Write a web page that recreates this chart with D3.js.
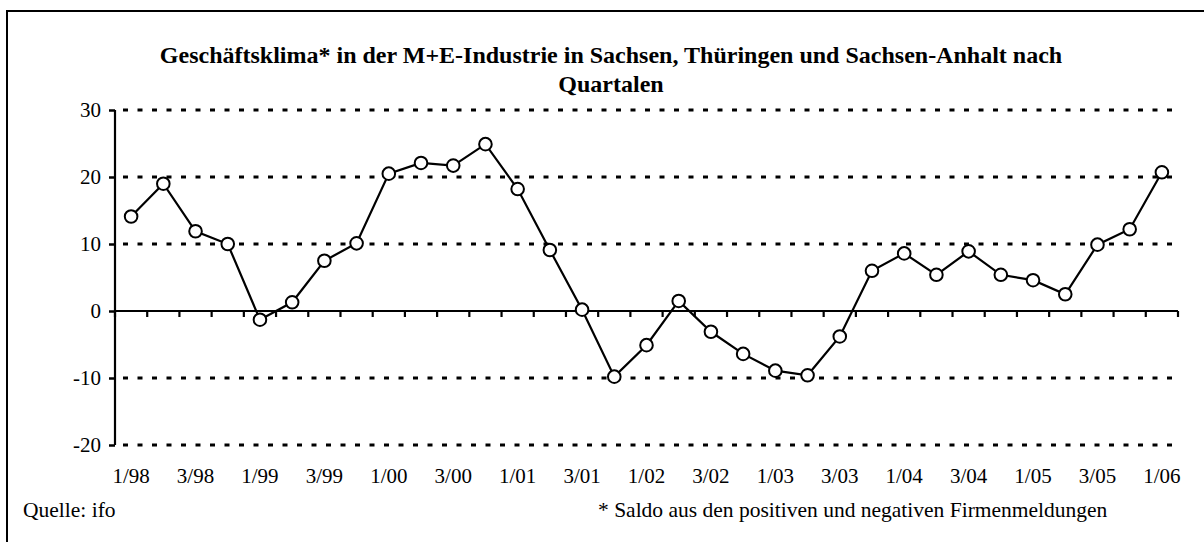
<!DOCTYPE html>
<html>
<head>
<meta charset="utf-8">
<script src="https://cdn.jsdelivr.net/npm/d3@7"></script>
<style>
  body { margin: 0; background: #fff; }
  svg { display: block; font-family: "Liberation Serif", "Times New Roman", serif; }
</style>
</head>
<body>
<div id="chart"></div>
<script>
// quarters 1/98 .. 1/06
const quarters = [
  "1/98","2/98","3/98","4/98",
  "1/99","2/99","3/99","4/99",
  "1/00","2/00","3/00","4/00",
  "1/01","2/01","3/01","4/01",
  "1/02","2/02","3/02","4/02",
  "1/03","2/03","3/03","4/03",
  "1/04","2/04","3/04","4/04",
  "1/05","2/05","3/05","4/05",
  "1/06"
];
// Saldo (Geschäftsklima)
const klima = [
  14.1, 19.0, 11.9, 10.0,
  -1.3, 1.3, 7.5, 10.1,
  20.5, 22.1, 21.7, 24.9,
  18.2, 9.1, 0.2, -9.8,
  -5.1, 1.5, -3.1, -6.4,
  -8.9, -9.6, -3.8, 6.0,
  8.6, 5.4, 8.9, 5.4,
  4.6, 2.5, 9.9, 12.2,
  20.7
];
const yTicks = [-20, -10, 0, 10, 20, 30];
const titleLines = [
  "Geschäftsklima* in der M+E-Industrie in Sachsen, Thüringen und Sachsen-Anhalt nach",
  "Quartalen"
];
const source = "Quelle: ifo";
const footnote = "* Saldo aus den positiven und negativen Firmenmeldungen";

const width = 1204, height = 542;
const plot = {left: 115, right: 1178, top: 110, bottom: 445};

const svg = d3.select("#chart").append("svg")
  .attr("width", width)
  .attr("height", height);

// outer frame (runs off right and bottom edge)
svg.append("rect")
  .attr("x", 7).attr("y", 11)
  .attr("width", width + 20).attr("height", height + 20)
  .attr("fill", "none").attr("stroke", "#000").attr("stroke-width", 2);

const x = d3.scaleBand(quarters, [plot.left, plot.right]);
const y = d3.scaleLinear([-20, 30], [plot.bottom, plot.top]);

// dashed gridlines
svg.append("g")
  .selectAll("line")
  .data(yTicks.filter(d => d !== 0))
  .join("line")
  .attr("x1", plot.left + 2).attr("x2", plot.right)
  .attr("y1", d => y(d)).attr("y2", d => y(d))
  .attr("stroke", "#000")
  .attr("stroke-width", 3)
  .attr("stroke-dasharray", "5,9.5")
  .attr("stroke-dashoffset", -6);

// y axis
const axisY = svg.append("g")
  .attr("transform", `translate(${plot.left},0)`)
  .call(d3.axisLeft(y).tickValues(yTicks).tickSize(6).tickPadding(8).tickFormat(d => String(d)));
axisY.select(".domain").attr("stroke-width", 2.2).attr("d", `M0,${y(30)}V${y(-20)}`);
axisY.selectAll(".tick line").attr("stroke-width", 2.5);
axisY.selectAll("text")
  .attr("font-size", 21)
  .attr("font-family", "Liberation Serif, serif")
  .attr("fill", "#000");

// x axis on zero line, ticks between quarters
const boundaries = quarters.map(q => x(q)).concat([plot.right]);
const axisX = svg.append("g").attr("transform", `translate(0,${y(0)})`);
axisX.append("line")
  .attr("x1", plot.left).attr("x2", plot.right)
  .attr("stroke", "#000").attr("stroke-width", 2.2);
axisX.selectAll("line.tk")
  .data(boundaries)
  .join("line")
  .classed("tk", true)
  .attr("x1", d => d).attr("x2", d => d)
  .attr("y1", 0).attr("y2", 6)
  .attr("stroke", "#000").attr("stroke-width", 2.2);

// category labels every second quarter, at bottom
svg.append("g")
  .selectAll("text")
  .data(quarters.filter((q, i) => i % 2 === 0))
  .join("text")
  .attr("x", d => x(d) + x.bandwidth() / 2)
  .attr("y", 483)
  .attr("text-anchor", "middle")
  .attr("font-size", 21)
  .text(d => d);

// line
const line = d3.line()
  .x((d, i) => x(quarters[i]) + x.bandwidth() / 2)
  .y(d => y(d));
svg.append("path")
  .datum(klima)
  .attr("d", line)
  .attr("fill", "none")
  .attr("stroke", "#000")
  .attr("stroke-width", 2.2);

svg.append("g")
  .selectAll("circle")
  .data(klima)
  .join("circle")
  .attr("cx", (d, i) => x(quarters[i]) + x.bandwidth() / 2)
  .attr("cy", d => y(d))
  .attr("r", 6.3)
  .attr("fill", "#fff")
  .attr("stroke", "#000")
  .attr("stroke-width", 2);

// title
svg.append("g")
  .selectAll("text")
  .data(titleLines)
  .join("text")
  .attr("x", 611)
  .attr("y", (d, i) => 63 + i * 29)
  .attr("text-anchor", "middle")
  .attr("font-size", 24)
  .attr("font-weight", "bold")
  .text(d => d);

// source and footnote
svg.append("text")
  .attr("x", 23).attr("y", 517)
  .attr("font-size", 21.5)
  .text(source);
svg.append("text")
  .attr("x", 598).attr("y", 517)
  .attr("font-size", 21.5)
  .text(footnote);
</script>
</body>
</html>
